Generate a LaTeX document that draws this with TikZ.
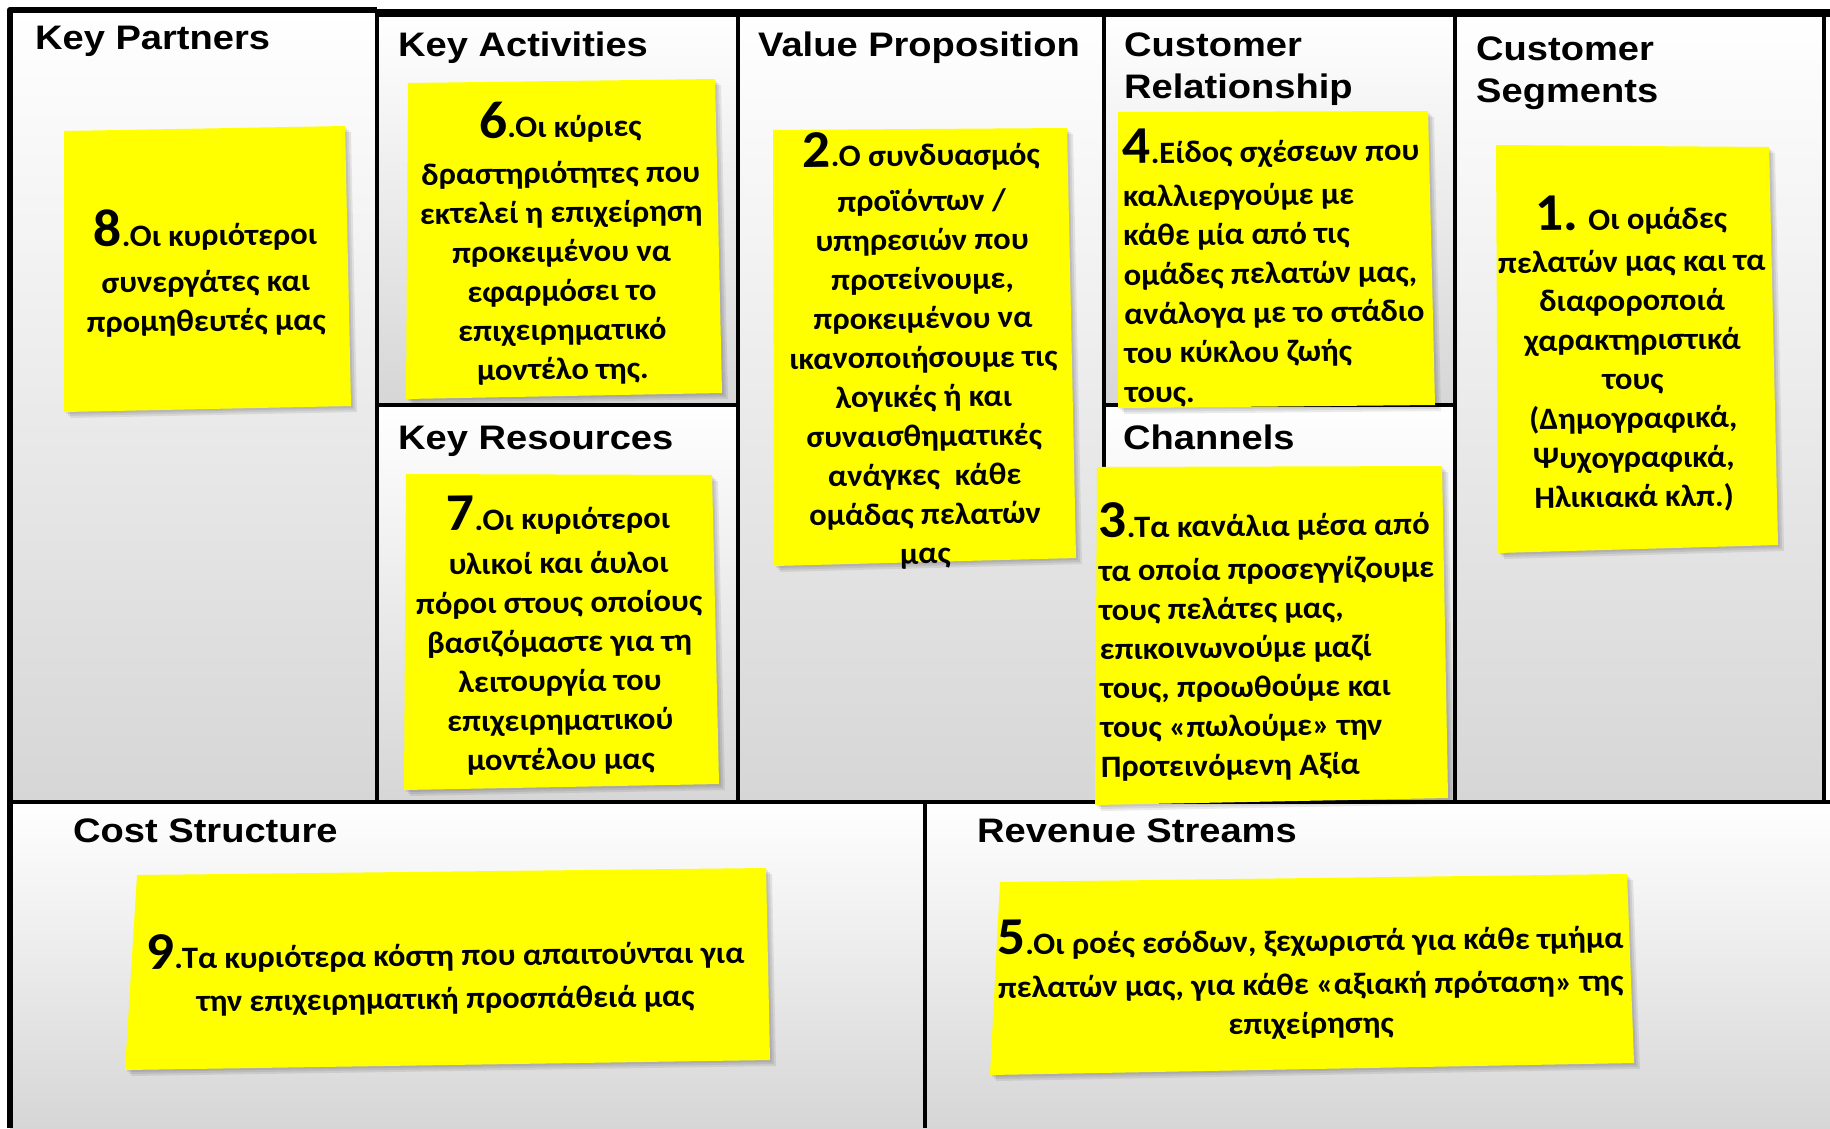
\documentclass[tikz,border=0pt]{standalone}
\usepackage{fontspec}
\setmainfont{Liberation Sans}
\newfontfamily\hdfont{Liberation Sans}[FakeStretch=1.12]
\newfontfamily\notefont{Carlito}[FakeStretch=1.05]
\definecolor{cellgray}{RGB}{214,214,214}
\definecolor{padyellow}{RGB}{255,255,0}
\newcommand\bignum[1]{{\fontsize{53}{53}\selectfont #1}}
% a yellow sticky pad with a soft shadow, given by its four corners
\newcommand\stickypad[4]{%
  \foreach \s in {2,4,6}{\fill[black,opacity=0.08,xshift=\s pt,yshift=-\s pt] #1 -- #2 -- #3 -- #4 -- cycle;}
  \fill[padyellow] #1 -- #2 -- #3 -- #4 -- cycle;}
\begin{document}
\begin{tikzpicture}[x=1pt,y=-1pt,
  cell/.style={top color=white,bottom color=cellgray},
  rule/.style={line width=4pt,black},
  head/.style={anchor=base west,inner sep=0,font=\hdfont\bfseries\fontsize{34}{42}\selectfont},
  padtext/.style={inner sep=0,rotate=0.6,font=\notefont\bfseries\fontsize{31}{39.2}\selectfont},
  cpad/.style={padtext,anchor=north,align=center},
  lpad/.style={padtext,anchor=north west,align=left}]
\useasboundingbox (0,0) rectangle (1830,1128);
\fill[white] (0,0) rectangle (1830,1128);

% cell backgrounds
\shade[cell] (10,10) rectangle (377,802);
\shade[cell] (377,13) rectangle (738,405);
\shade[cell] (377,405) rectangle (738,802);
\shade[cell] (738,13) rectangle (1104,802);
\shade[cell] (1104,13) rectangle (1455,405);
\shade[cell] (1104,405) rectangle (1455,802);
\shade[cell] (1455,13) rectangle (1824,802);
\shade[cell] (10,802) rectangle (925,1128);
\shade[cell] (925,802) rectangle (1830,1128);

% grid
\draw[rule] (377,13) -- (377,802);
\draw[rule] (738,13) -- (738,802);
\draw[rule] (1104,13) -- (1104,802);
\draw[rule] (1455,13) -- (1455,802);
\draw[rule] (1824,13) -- (1824,802);
\draw[rule] (377,405) -- (738,405);
\draw[rule] (1104,405) -- (1455,405);
\draw[rule] (10,802) -- (1830,802);
\draw[rule] (925,802) -- (925,1128);
\draw[line width=6.5pt,line join=round] (10,1128) -- (10,10) -- (377,10);
\draw[line width=8pt] (377,13) -- (1830,13);

% headings
\node[head] (hKP) at (35,49) {Key Partners};
\node[head] (hKA) at (398,56) {Key Activities};
\node[head] (hVP) at (758,56) {Value Proposition};
\node[head] (hCRa) at (1124,56) {Customer};
\node[head] (hCRb) at (1124,98) {Relationship};
\node[head] (hCSa) at (1476,60) {Customer};
\node[head] (hCSb) at (1476,102) {Segments};
\node[head] (hKR) at (398,449) {Key Resources};
\node[head] (hCh) at (1123,449) {Channels};
\node[head] (hCost) at (73,842) {Cost Structure};
\node[head] (hRev) at (977,842) {Revenue Streams};

% sticky pads
\stickypad{(64,131)}{(345,126)}{(351,406)}{(64,412)}
\stickypad{(408,83)}{(715,79)}{(722,393)}{(406,399)}
\stickypad{(773,130)}{(1067,128)}{(1076,558)}{(774,566)}
\stickypad{(1118,112)}{(1428,111)}{(1435,405)}{(1118,408)}
\stickypad{(1496,145)}{(1769,147)}{(1778,545)}{(1498,553)}
\stickypad{(406,474)}{(712,475)}{(719,784)}{(404,790)}
\stickypad{(1097,467)}{(1442,466)}{(1448,798)}{(1095,805)}
\stickypad{(137,875)}{(766,868)}{(770,1060)}{(125,1070)}
\stickypad{(1000,882)}{(1627,874)}{(1634,1063)}{(990,1075)}

\node[cpad] (t8) at (205,209) {\bignum{8}.Οι κυριότεροι\\[7pt] συνεργάτες και\\ προμηθευτές μας};
\node[cpad] (t6) at (560,101) {\bignum{6}.Οι κύριες\\[7pt] δραστηριότητες που\\ εκτελεί η επιχείρηση\\ προκειμένου να\\ εφαρμόσει το\\ επιχειρηματικό\\ μοντέλο της.};
\node[cpad] (t2) at (921,131) {\bignum{2}.Ο συνδυασμός\\[6pt] προϊόντων /\\ υπηρεσιών που\\ προτείνουμε,\\ προκειμένου να\\ ικανοποιήσουμε τις\\ λογικές ή και\\ συναισθηματικές\\ ανάγκες\ \ κάθε\\ ομάδας πελατών\\ μας};
\node[lpad] (t4) at (1122,129) {\bignum{4}.Είδος σχέσεων που\\[4pt] καλλιεργούμε με\\ κάθε μία από τις\\ ομάδες πελατών μας,\\ ανάλογα με το στάδιο\\ του κύκλου ζωής\\ τους.};
\node[cpad] (t1) at (1631,195) {\bignum{1.} Οι ομάδες\\[3pt] πελατών μας και τα\\ διαφοροποιά\\ χαρακτηριστικά\\ τους\\ (Δημογραφικά,\\ Ψυχογραφικά,\\ Ηλικιακά κλπ.)};
\node[cpad] (t7) at (558,495) {\bignum{7}.Οι κυριότεροι\\[5pt] υλικοί και άυλοι\\ πόροι στους οποίους\\ βασιζόμαστε για τη\\ λειτουργία του\\ επιχειρηματικού\\ μοντέλου μας};
\node[lpad] (t3) at (1098,503) {\bignum{3}.Τα κανάλια μέσα από\\[4pt] τα οποία προσεγγίζουμε\\ τους πελάτες μας,\\ επικοινωνούμε μαζί\\ τους, προωθούμε και\\ τους «πωλούμε» την\\ Προτεινόμενη Αξία};
\node[cpad] (t9) at (445,931) {\bignum{9}.Τα κυριότερα κόστη που απαιτούνται για\\[4pt] την επιχειρηματική προσπάθειά μας};
\node[cpad] (t5) at (1310,917) {\bignum{5}.Οι ροές εσόδων, ξεχωριστά για κάθε τμήμα\\[4pt] πελατών μας, για κάθε «αξιακή πρόταση» της\\ επιχείρησης};
\end{tikzpicture}
\end{document}
